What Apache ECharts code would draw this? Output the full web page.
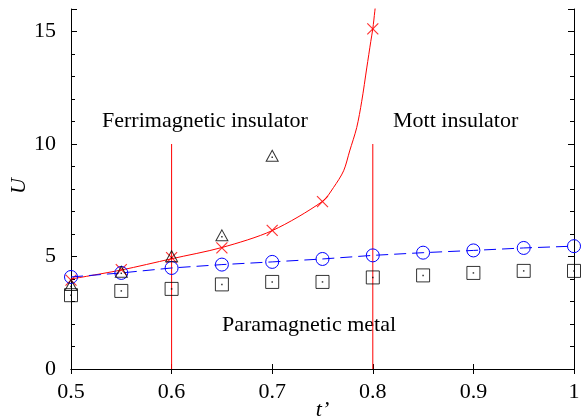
<!DOCTYPE html>
<html>
<head>
<meta charset="utf-8">
<script src="https://cdn.jsdelivr.net/npm/echarts@6/dist/echarts.min.js"></script>
<style>
	html, body { margin: 0; padding: 0; background: #fff; }
	#chart { width: 582px; height: 420px; }
</style>
</head>
<body>
<div id="chart"></div>
<script>
// values
const tAll = [0.5, 0.55, 0.6, 0.65, 0.7, 0.75, 0.8, 0.85, 0.9, 0.95, 1.0];
const crossT = [0.5, 0.55, 0.6, 0.65, 0.7, 0.75, 0.8];
const crossU = [3.95, 4.42, 4.95, 5.38, 6.16, 7.44, 15.12];
const fitT = [0.5, 0.55, 0.6, 0.65, 0.7, 0.75, 0.761, 0.771, 0.777, 0.784, 0.789, 0.794, 0.798, 0.8, 0.802, 0.803];
const fitU = [4.0, 4.4, 4.9, 5.4, 6.15, 7.45, 8.07, 8.81, 9.69, 10.73, 11.9, 13.38, 14.56, 15.12, 15.9, 16.3];
const circleU = [4.09, 4.27, 4.49, 4.64, 4.76, 4.89, 5.05, 5.17, 5.27, 5.38, 5.46];
const triangleT = [0.5, 0.55, 0.6, 0.65, 0.7];
const triangleU = [3.73, 4.32, 5.01, 5.94, 9.48];
const squareU = [3.28, 3.47, 3.56, 3.76, 3.87, 3.87, 4.07, 4.16, 4.27, 4.36, 4.36];
const boundaryT = [0.6, 0.8];
const boundaryTop = 10;
const xTicks = [0.5, 0.6, 0.7, 0.8, 0.9, 1];
const yTicks = [0, 5, 10, 15];

const serif = "'Liberation Serif', 'DejaVu Serif', serif";
const zip = (xs, ys) => xs.map((x, i) => [x, ys[i]]);

const crossPath = "path://M0,0L10,10M10,0L0,10";

let myChart = echarts.init(document.getElementById("chart"));

let boundarySeries = boundaryT.map((t) => ({
	type: "line",
	data: [[t, 0], [t, boundaryTop]],
	symbol: "none",
	lineStyle: { color: "#ff0000", width: 1 },
	silent: true,
	z: 1,
}));

let baseX = {
	type: "value",
	min: 0.5,
	max: 1,
	interval: 0.1,
	axisLine: { lineStyle: { color: "#000", width: 1 } },
	axisTick: { inside: true, length: 5, lineStyle: { color: "#000" } },
	splitLine: { show: false },
};
let baseY = {
	type: "value",
	min: 0,
	max: 16,
	interval: 5,
	axisLine: { lineStyle: { color: "#000", width: 1 } },
	axisTick: { inside: true, length: 6, lineStyle: { color: "#000" } },
	minorTick: { show: true, splitNumber: 5, length: 4, lineStyle: { color: "#000" } },
	splitLine: { show: false },
};

let option = {
	animation: false,
	backgroundColor: "#fff",
	grid: { left: 71, right: 8, top: 9, bottom: 51, outerBoundsMode: "none", containLabel: false },
	xAxis: [
		Object.assign({}, baseX, {
			position: "bottom",
			name: "t’",
			nameLocation: "middle",
			nameGap: 30,
			nameMoveOverlap: false,
			nameTextStyle: { fontFamily: serif, fontStyle: "italic", fontSize: 22, color: "#000" },
			axisLabel: {
				fontFamily: serif,
				fontSize: 22,
				color: "#000",
				margin: 12,
				formatter: (v) => (xTicks.includes(Math.round(v * 10) / 10) ? String(Math.round(v * 10) / 10) : ""),
			},
		}),
		Object.assign({}, baseX, { position: "top", axisLabel: { show: false } }),
	],
	yAxis: [
		Object.assign({}, baseY, {
			position: "left",
			name: "U",
			nameLocation: "middle",
			nameGap: 41,
			nameMoveOverlap: false,
			nameRotate: 90,
			nameTextStyle: { fontFamily: serif, fontStyle: "italic", fontSize: 22, color: "#000", padding: [0, 0, 0, 6] },
			axisLabel: {
				fontFamily: serif,
				fontSize: 22,
				color: "#000",
				margin: 15,
				formatter: (v) => (yTicks.includes(v) ? String(v) : ""),
			},
		}),
		Object.assign({}, baseY, { position: "right", axisLabel: { show: false } }),
	],
	graphic: [
		{ type: "text", left: 102, top: 110, style: { text: "Ferrimagnetic insulator", font: "22px " + serif, fill: "#000" } },
		{ type: "text", left: 393, top: 110, style: { text: "Mott insulator", font: "22px " + serif, fill: "#000" } },
		{ type: "text", left: 222, top: 314, style: { text: "Paramagnetic metal", font: "22px " + serif, fill: "#000" } },
	],
	series: boundarySeries.concat([
		{
			type: "line",
			data: zip(fitT, fitU),
			smooth: 0.3,
			symbol: "none",
			lineStyle: { color: "#ff0000", width: 1 },
			z: 2,
		},
		{
			type: "scatter",
			data: zip(crossT, crossU),
			symbol: crossPath,
			symbolSize: 11,
			itemStyle: { color: "none", borderColor: "#ff0000", borderWidth: 1.2 },
			z: 3,
		},
		{
			type: "line",
			data: zip(tAll, circleU),
			symbol: "circle",
			symbolSize: 13,
			showAllSymbol: true,
			itemStyle: { color: "none", borderColor: "#0000ff", borderWidth: 1 },
			lineStyle: { color: "#0000ff", width: 1, type: [12, 6] },
			z: 4,
		},
		{
			type: "scatter",
			data: zip(triangleT, triangleU),
			symbol: "triangle",
			symbolSize: [12, 11],
			itemStyle: { color: "none", borderColor: "#000", borderWidth: 1 },
			z: 5,
		},
		{
			type: "scatter",
			data: zip(triangleT, triangleU),
			symbol: "rect",
			symbolSize: 1.5,
			symbolOffset: [0, 1.5],
			itemStyle: { color: "#000" },
			z: 5,
		},
		{
			type: "scatter",
			data: zip(tAll, squareU),
			symbol: "rect",
			symbolSize: 13,
			itemStyle: { color: "none", borderColor: "#000", borderWidth: 1 },
			z: 5,
		},
		{
			type: "scatter",
			data: zip(tAll, squareU),
			symbol: "rect",
			symbolSize: 1.5,
			itemStyle: { color: "#000" },
			z: 5,
		},
	]),
};
myChart.setOption(option);
</script>
</body>
</html>
